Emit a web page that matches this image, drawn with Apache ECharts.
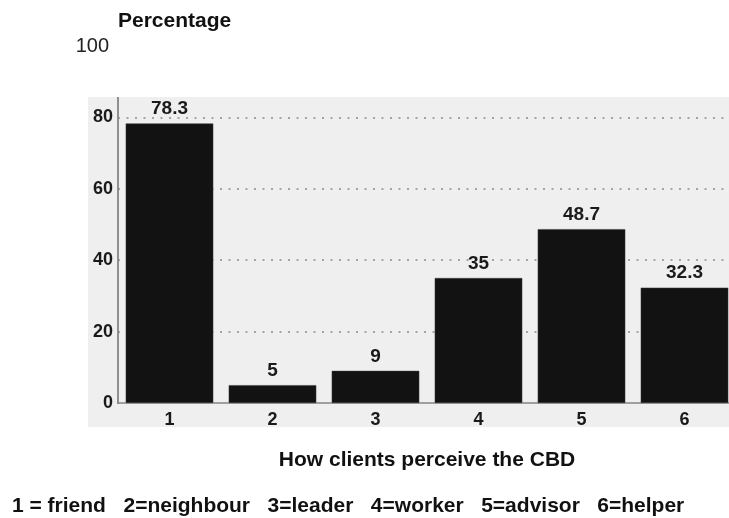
<!DOCTYPE html>
<html>
<head>
<meta charset="utf-8">
<script src="https://cdn.jsdelivr.net/npm/echarts@6/dist/echarts.min.js"></script>
<style>
  html, body { margin: 0; padding: 0; background: #ffffff; }
  #chart { width: 729px; height: 518px; }
</style>
</head>
<body>
<div id="chart"></div>
<script>
// Perceived role of the CBD agent, share of clients (%)
const categories = ['1', '2', '3', '4', '5', '6'];
const percentages = [78.3, 5, 9, 35, 48.7, 32.3];
const yTicks = [0, 20, 40, 60, 80, 100];
const xTitle = 'How clients perceive the CBD';
const keyText = '1 = friend   2=neighbour   3=leader   4=worker   5=advisor   6=helper';

const chart = echarts.init(document.getElementById('chart'), null, { renderer: 'canvas' });

const font = 'Liberation Sans, Arial, sans-serif';

chart.setOption({
  backgroundColor: '#ffffff',
  animation: false,
  graphic: [
    // grey paper panel behind the plot
    { type: 'rect', left: 88, top: 97, z: -10, silent: true,
      shape: { width: 641, height: 330 },
      style: { fill: '#efefef' } },
    // left axis rule on the panel
    { type: 'line', z: 5, silent: true,
      shape: { x1: 118, y1: 97, x2: 118, y2: 404 },
      style: { stroke: '#858585', lineWidth: 1.8 } }
  ],
  title: [
    { text: keyText, left: 12, top: 496, padding: 0,
      textStyle: { fontFamily: font, fontWeight: 'bold', fontSize: 21, color: '#111' } }
  ],
  grid: {
    left: 118, right: -7, top: 46, bottom: 115,
    outerBoundsMode: 'none', containLabel: false
  },
  xAxis: {
    type: 'category',
    data: categories,
    name: xTitle,
    nameLocation: 'middle',
    nameGap: 47,
    nameTextStyle: { fontFamily: font, fontWeight: 'bold', fontSize: 21, color: '#111' },
    axisLine: { show: true, lineStyle: { color: '#858585', width: 1.5 } },
    axisTick: { show: false },
    axisLabel: {
      margin: 8,
      fontFamily: font, fontWeight: 'bold', fontSize: 18, color: '#1a1a1a'
    }
  },
  yAxis: {
    type: 'value',
    min: yTicks[0], max: yTicks[yTicks.length - 1], interval: 20,
    name: 'Percentage',
    nameLocation: 'end',
    nameGap: 14,
    nameTextStyle: {
      align: 'left', fontFamily: font, fontWeight: 'bold', fontSize: 21, color: '#111'
    },
    axisLine: { show: false },
    axisTick: { show: false },
    axisLabel: {
      margin: 5,
      formatter: function (v) {
        return v === yTicks[yTicks.length - 1] ? '{top|' + v + '}' : '{b|' + v + '}';
      },
      rich: {
        b: { fontFamily: font, fontWeight: 'bold', fontSize: 18, color: '#1a1a1a' },
        top: { fontFamily: font, fontWeight: 'normal', fontSize: 20, color: '#222', padding: [0, 4, 0, 0] }
      }
    },
    splitLine: {
      show: true,
      showMinLine: false,
      showMaxLine: false,
      lineStyle: { color: '#8c8c8c', type: [2, 6.5], width: 1.5 }
    }
  },
  series: [{
    type: 'bar',
    data: percentages,
    barWidth: '85%',
    itemStyle: { color: '#121212', borderColor: '#3a3a3a', borderWidth: 0.5 },
    label: {
      show: true,
      position: 'top',
      distance: 5,
      fontFamily: font, fontWeight: 'bold', fontSize: 19, color: '#1a1a1a'
    }
  }]
});
</script>
</body>
</html>
